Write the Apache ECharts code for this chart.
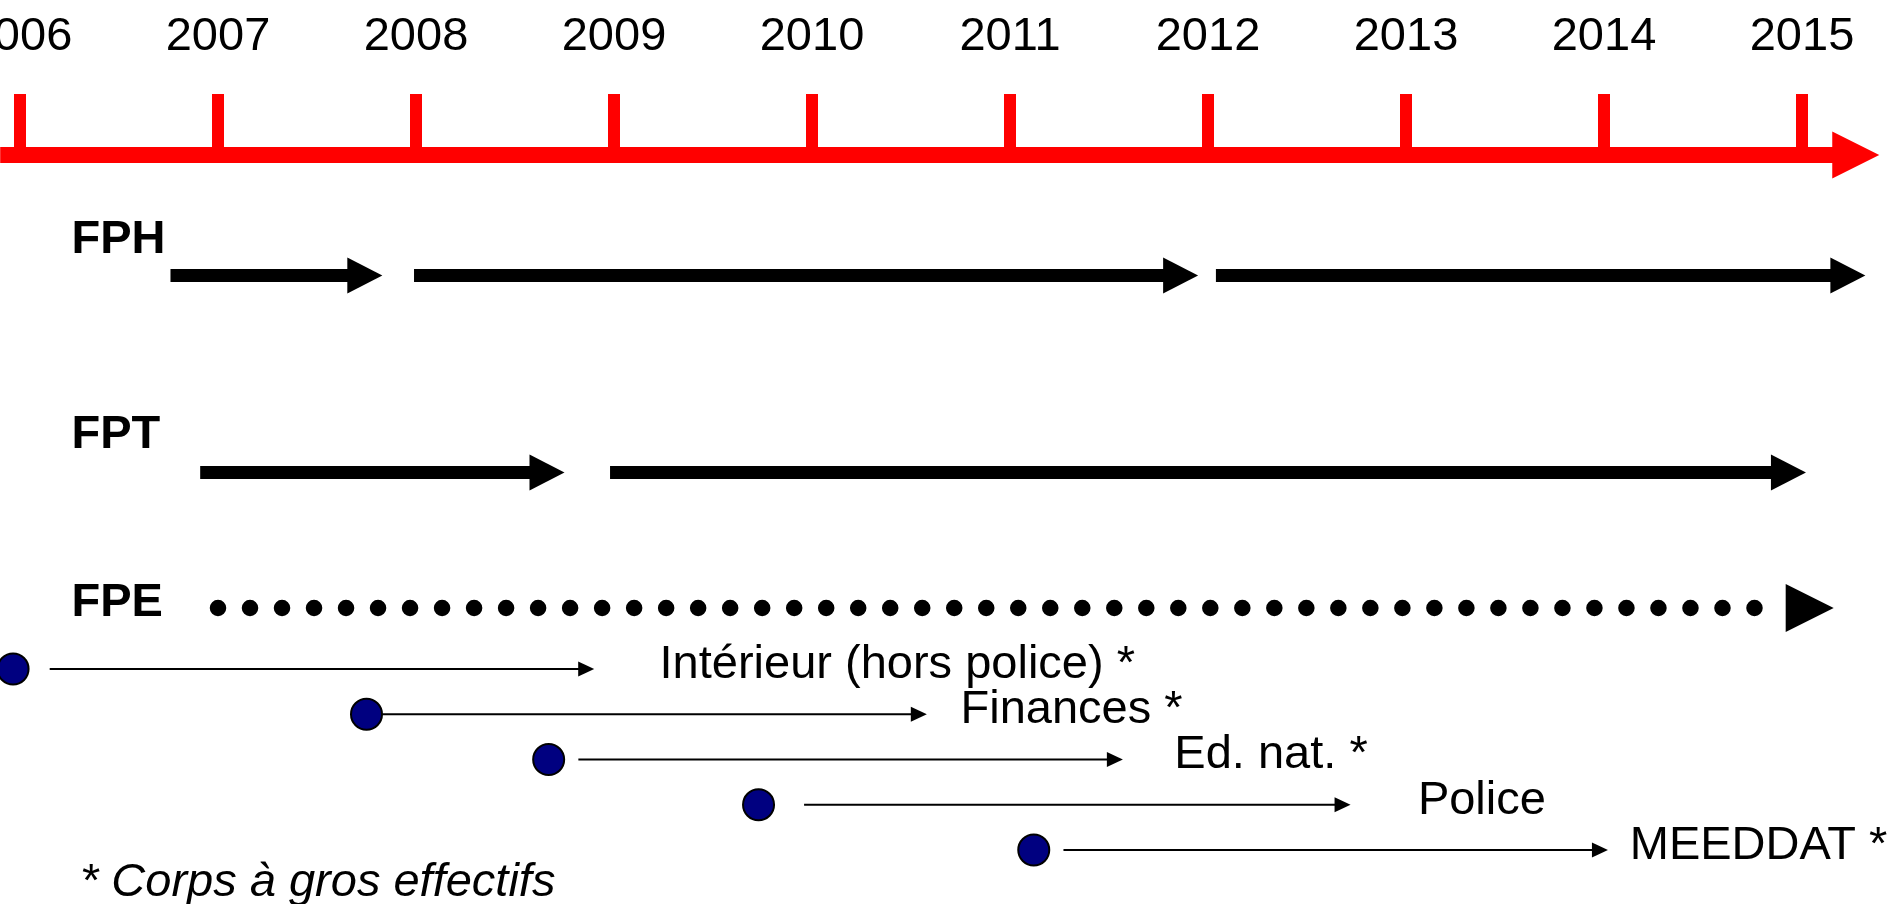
<!DOCTYPE html>
<html>
<head>
<meta charset="utf-8">
<script src="https://cdn.jsdelivr.net/npm/echarts@6/dist/echarts.min.js"></script>
<style>
html,body{margin:0;padding:0;background:#fff;}
#chart{width:1899px;height:904px;}
</style>
</head>
<body>
<div id="chart"></div>
<script>
// years shown on the time line
const yearTicks = [2006, 2007, 2008, 2009, 2010, 2011, 2012, 2013, 2014, 2015];
const timeLine = [2005.9, 2015.39];

// FPH / FPT / FPE (start year, end year of each arrow)
const rowNames = ['FPH', 'FPT', 'FPE'];
const rowLane = [2.663, 7.017, 10.011];
const rowLabelLane = [1.889, 6.199, 9.901];
const rowLabelAt = 2006.26;
const fphSpans = [[2006.76, 2007.83], [2007.99, 2011.95], [2012.04, 2015.32]];
const fptSpans = [[2006.91, 2008.75], [2008.98, 2015.02]];
const fpeSpan = [2007.0, 2015.16];

// corps (point of departure, arrow from, arrow to, label)
const corps = ['Intérieur (hors police) *', 'Finances *', 'Ed. nat. *', 'Police', 'MEEDDAT *'];
const corpsStart = [2005.965, 2007.75, 2008.67, 2009.73, 2011.12];
const corpsFrom = [2006.15, 2007.83, 2008.82, 2009.96, 2011.27];
const corpsTo = [2008.90, 2010.58, 2011.57, 2012.72, 2014.02];
const corpsLabelAt = [2009.23, 2010.75, 2011.83, 2013.06, 2014.13];
const corpsLane = [11.36, 12.36, 13.36, 14.36, 15.36];

const FONT = '"Liberation Sans", Arial, sans-serif';

function arrowRenderer(color, thick, headLen, headWid) {
	return function (params, api) {
		let lane = api.value(2);
		let a = api.coord([api.value(0), lane]);
		let b = api.coord([api.value(1), lane]);
		let y = a[1];
		let baseX = b[0] - headLen;
		return {
			type: 'group',
			children: [
				{type: 'rect', shape: {x: a[0], y: y - thick / 2, width: baseX - a[0] + 1, height: thick}, style: {fill: color}},
				{type: 'polygon', shape: {points: [[b[0], y], [baseX, y - headWid / 2], [baseX, y + headWid / 2]]}, style: {fill: color}}
			]
		};
	};
}

function dottedRenderer(params, api) {
	let lane = api.value(2);
	let a = api.coord([api.value(0), lane]);
	let b = api.coord([api.value(1), lane]);
	let y = a[1];
	let baseX = b[0] - 48;
	return {
		type: 'group',
		children: [
			{type: 'line', shape: {x1: a[0], y1: y, x2: baseX, y2: y},
				style: {stroke: '#000', lineWidth: 16.5, lineDash: [0.01, 32], lineCap: 'round'}},
			{type: 'polygon', shape: {points: [[b[0], y], [baseX, y - 24], [baseX, y + 24]]}, style: {fill: '#000'}}
		]
	};
}

function textStyle(text, font) {
	return {text: text, fill: '#000', font: font, align: 'left', textAlign: 'left', verticalAlign: 'middle', textVerticalAlign: 'middle'};
}

function rowLabelRenderer(params, api) {
	let p = api.coord([api.value(0), api.value(1)]);
	return {type: 'text', x: p[0], y: p[1], style: textStyle(rowNames[params.dataIndex], 'bold 47px ' + FONT)};
}

function corpsRenderer(params, api) {
	let lane = api.value(4);
	let c = api.coord([api.value(0), lane]);
	let a = api.coord([api.value(1), lane]);
	let b = api.coord([api.value(2), lane]);
	let t = api.coord([api.value(3), lane]);
	let y = c[1];
	return {
		type: 'group',
		children: [
			{type: 'line', shape: {x1: a[0], y1: y, x2: b[0] - 14, y2: y}, style: {stroke: '#000', lineWidth: 2}},
			{type: 'polygon', shape: {points: [[b[0], y], [b[0] - 16, y - 7.5], [b[0] - 16, y + 7.5]]}, style: {fill: '#000'}},
			{type: 'circle', shape: {cx: c[0], cy: y, r: 15.5}, style: {fill: '#000080', stroke: '#000', lineWidth: 2}},
			{type: 'text', x: t[0], y: y - 4, style: textStyle(corps[params.dataIndex], '47px ' + FONT)}
		]
	};
}

let chart = echarts.init(document.getElementById('chart'), null, {renderer: 'canvas'});

let option = {
	animation: false,
	backgroundColor: '#fff',
	title: {
		text: '* Corps à gros effectifs',
		left: 80,
		top: 859,
		padding: 0,
		textStyle: {fontStyle: 'italic', fontWeight: 'normal', fontSize: 47, fontFamily: FONT, color: '#000'}
	},
	grid: {left: -178, right: -101, top: 155, height: 905, outerBoundsMode: 'none', containLabel: false},
	xAxis: {
		type: 'value',
		position: 'top',
		min: 2005,
		max: 2016,
		interval: 1,
		axisLine: {show: false},
		splitLine: {show: false},
		axisTick: {show: true, length: 61, lineStyle: {color: '#ff0000', width: 12}},
		axisLabel: {
			show: true,
			margin: 94,
			fontSize: 47,
			fontFamily: FONT,
			color: '#000',
			formatter: function (v) {
				return yearTicks.indexOf(v) >= 0 ? String(v) : '';
			}
		}
	},
	yAxis: {type: 'value', inverse: true, min: 0, max: 20, show: false},
	series: [
		{
			type: 'custom', name: 'axe', renderItem: arrowRenderer('#ff0000', 16, 47, 47),
			encode: {x: [0, 1], y: 2}, z: 3,
			data: [[timeLine[0], timeLine[1], 0]]
		},
		{
			type: 'custom', name: 'FPH', renderItem: arrowRenderer('#000', 13, 35, 36),
			encode: {x: [0, 1], y: 2},
			data: fphSpans.map(s => [s[0], s[1], rowLane[0]])
		},
		{
			type: 'custom', name: 'FPT', renderItem: arrowRenderer('#000', 13, 35, 36),
			encode: {x: [0, 1], y: 2},
			data: fptSpans.map(s => [s[0], s[1], rowLane[1]])
		},
		{
			type: 'custom', name: 'FPE', renderItem: dottedRenderer,
			encode: {x: [0, 1], y: 2},
			data: [[fpeSpan[0], fpeSpan[1], rowLane[2]]]
		},
		{
			type: 'custom', name: 'rows', renderItem: rowLabelRenderer,
			encode: {x: 0, y: 1},
			data: rowLabelLane.map(l => [rowLabelAt, l])
		},
		{
			type: 'custom', name: 'corps', renderItem: corpsRenderer,
			encode: {x: [0, 1, 2, 3], y: 4},
			data: corps.map((c, i) => [corpsStart[i], corpsFrom[i], corpsTo[i], corpsLabelAt[i], corpsLane[i]])
		}
	]
};

chart.setOption(option);
</script>
</body>
</html>
